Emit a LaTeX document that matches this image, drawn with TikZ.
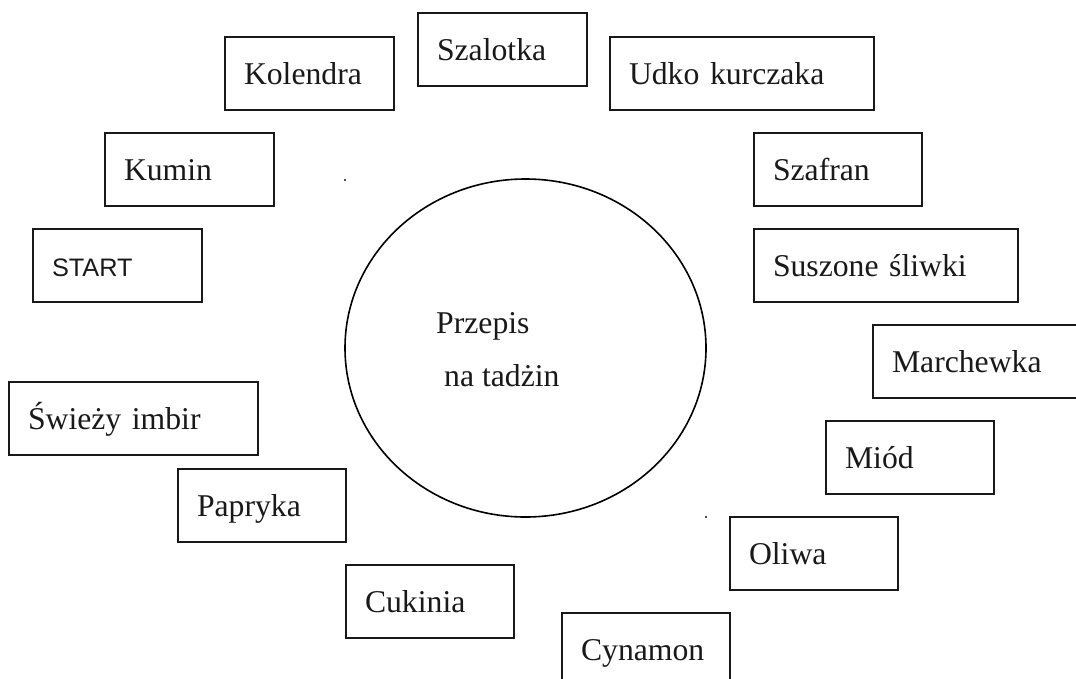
\documentclass[tikz,border=0pt]{standalone}
\usepackage{fontspec}
\setmainfont{Liberation Serif}
\newfontfamily\sansfam{Liberation Sans}
\usetikzlibrary{shapes.geometric}
\tikzset{
  itembox/.style={draw=black!90, line width=2pt, rectangle, anchor=north west,
    inner xsep=19pt, inner ysep=0pt, minimum height=72.5pt,
    text height=28pt, text depth=5pt, align=left, text=black!90,
    font=\fontsize{31.7}{38}\selectfont},
  sanstext/.style={font=\sansfam\fontsize{25.3}{30}\selectfont},
  centrelbl/.style={anchor=base west, inner sep=0pt, text=black!90, font=\fontsize{31.7}{38}\selectfont},
  speck/.style={fill=black!70, draw=none, inner sep=0pt, minimum size=1.6pt, rectangle}
}
\begin{document}
\begin{tikzpicture}[x=1pt,y=-1pt]
\useasboundingbox[fill=white] (0,0) rectangle (1076,678);
% centre ellipse
\node[draw=black, line width=1.6pt, ellipse, minimum width=361pt, minimum height=338pt, inner sep=0pt] (centre) at (525.5,348) {};
\node[centrelbl] (t1) at (436,333) {Przepis};
\node[centrelbl] (t2) at (444,386) {na tadżin};
\node[speck] (s1) at (345,180) {};
\node[speck] (s2) at (706,517) {};
% boxes
\node[itembox, text width=131pt] (szalotka) at (417,12) {Szalotka};
\node[itembox, text width=131pt] (kolendra) at (224,36) {Kolendra};
\node[itembox, text width=226pt] (udko) at (609,36) {Udko kurczaka};
\node[itembox, text width=131pt] (kumin) at (104,132) {Kumin};
\node[itembox, text width=130pt] (szafran) at (753,132) {Szafran};
\node[itembox, sanstext, text width=131pt] (start) at (32,228) {START};
\node[itembox, text width=226pt] (suszone) at (753,228) {Suszone śliwki};
\node[itembox, text width=182pt] (marchewka) at (872,324) {Marchewka};
\node[itembox, text width=211pt] (imbir) at (8,381) {Świeży imbir};
\node[itembox, text width=130pt] (miod) at (825,420) {Miód};
\node[itembox, text width=130pt] (papryka) at (177,468) {Papryka};
\node[itembox, text width=130pt] (oliwa) at (729,516) {Oliwa};
\node[itembox, text width=130pt] (cukinia) at (345,564) {Cukinia};
\node[itembox, text width=130pt] (cynamon) at (561,612) {Cynamon};
\end{tikzpicture}
\end{document}
